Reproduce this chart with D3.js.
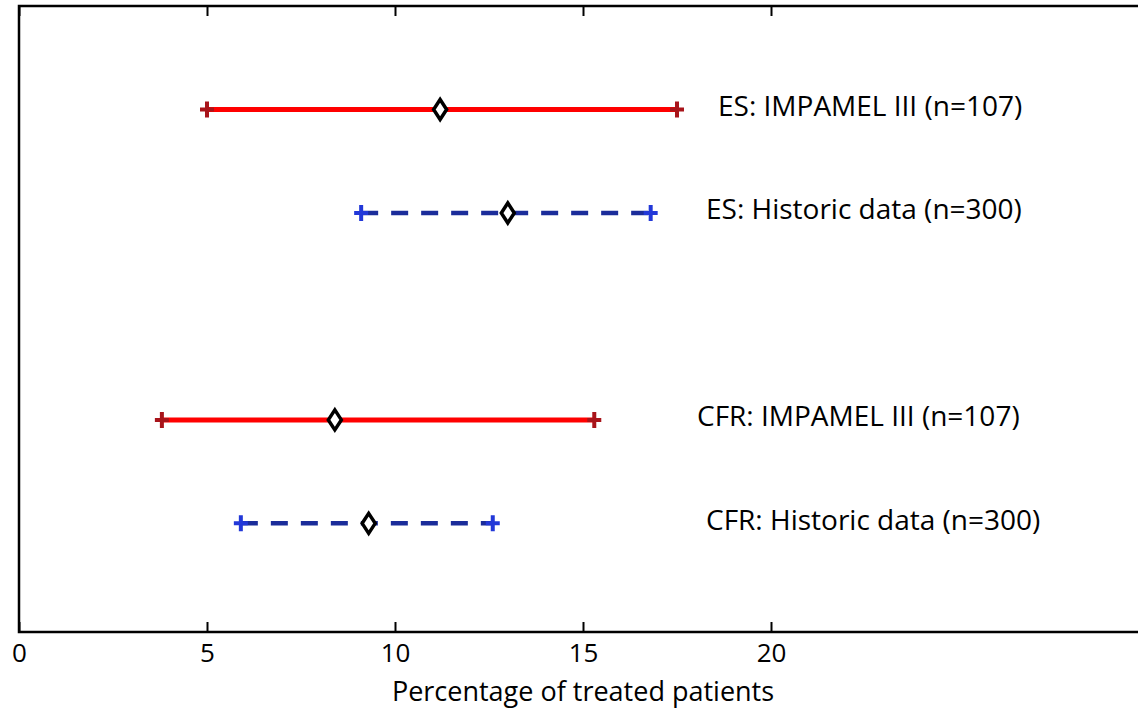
<!DOCTYPE html>
<html>
<head>
<meta charset="utf-8">
<script src="https://cdn.jsdelivr.net/npm/d3@7"></script>
<style>
  body { margin: 0; background: #fff; }
  svg { display: block; font-family: "Open Sans", "DejaVu Sans", sans-serif; }
</style>
</head>
<body>
<div id="chart"></div>
<script>
// one row per interval, top to bottom
const labels = ["ES: IMPAMEL III (n=107)", "ES: Historic data (n=300)", "CFR: IMPAMEL III (n=107)", "CFR: Historic data (n=300)"]
const lower  = [5.0, 9.1, 3.8, 5.9]
const mean   = [11.2, 13.0, 8.4, 9.3]
const upper  = [17.5, 16.8, 15.3, 12.6]
const kind   = ["impamel", "historic", "impamel", "historic"]
// y slots: gap between ES and CFR groups
const slot   = [1, 2, 4, 5]
const xTicks = [0, 5, 10, 15, 20]

const width = 1138, height = 709
const margin = {top: 6, right: -9, bottom: 77, left: 19}

const rows = labels.map((l, i) => ({label: l, lo: lower[i], m: mean[i], hi: upper[i], kind: kind[i], slot: slot[i]}))

const svg = d3.select("#chart").append("svg")
    .attr("width", width)
    .attr("height", height)

const x = d3.scaleLinear()
    .domain([0, 30])
    .range([margin.left, width - margin.right])

const y = d3.scaleLinear()
    .domain([0, 6.05])
    .range([margin.top, height - margin.bottom])

const style = {
  impamel:  {line: "#ff0000", plus: "#a8141a", dash: null,    w: 5},
  historic: {line: "#1b2c9a", plus: "#2238d8", dash: "17,13", w: 4.5}
}

// frame
const plotBottom = height - margin.bottom
svg.append("path")
    .attr("fill", "none")
    .attr("stroke", "#000")
    .attr("stroke-width", 2.5)
    .attr("d", `M${width + 20},${margin.top}H${margin.left}V${plotBottom}H${width + 20}`)

// bottom axis, ticks point inward
const xAxis = svg.append("g")
    .attr("transform", `translate(0,${plotBottom})`)
    .call(d3.axisBottom(x).tickValues(xTicks).tickSizeInner(-10).tickSizeOuter(0).tickPadding(12))
xAxis.select(".domain").remove()
xAxis.selectAll(".tick line").attr("stroke-width", 2)
xAxis.selectAll(".tick text")
    .attr("font-size", 26)
    .attr("font-family", "Open Sans, sans-serif")
    .attr("fill", "#000")

// top ticks
const topAxis = svg.append("g")
    .attr("transform", `translate(0,${margin.top})`)
    .call(d3.axisTop(x).tickValues(xTicks).tickSizeInner(-10).tickSizeOuter(0).tickFormat(""))
topAxis.select(".domain").remove()
topAxis.selectAll(".tick line").attr("stroke-width", 2)

svg.append("text")
    .attr("x", x(15))
    .attr("y", 701)
    .attr("text-anchor", "middle")
    .attr("font-size", 27)
    .attr("fill", "#000")
    .text("Percentage of treated patients")

const row = svg.append("g").selectAll("g")
  .data(rows)
  .join("g")
    .attr("transform", d => `translate(0,${y(d.slot)})`)

row.append("line")
    .attr("x1", d => x(d.lo))
    .attr("x2", d => x(d.hi))
    .attr("stroke", d => style[d.kind].line)
    .attr("stroke-width", d => style[d.kind].w)
    .attr("stroke-dasharray", d => style[d.kind].dash)

// "+" markers at the interval ends
row.selectAll("path.plus")
  .data(d => [d.lo, d.hi].map(v => ({v, kind: d.kind})))
  .join("path")
    .attr("class", "plus")
    .attr("fill", "none")
    .attr("stroke", d => style[d.kind].plus)
    .attr("stroke-width", 4)
    .attr("d", d => `M${x(d.v) - 7},0H${x(d.v) + 7}M${x(d.v)},-8V8`)

// diamond at the mean
row.append("path")
    .attr("fill", "#fff")
    .attr("stroke", "#000")
    .attr("stroke-width", 3.5)
    .attr("d", d => `M${x(d.m)},-10L${x(d.m) + 6.5},0L${x(d.m)},10L${x(d.m) - 6.5},0Z`)

row.append("text")
    .attr("x", d => d.kind === "impamel" ? (d.slot === 1 ? 718 : 697) : 706)
    .attr("dy", "0.33em")
    .attr("y", -3)
    .attr("font-size", 28)
    .attr("fill", "#000")
    .text(d => d.label)
</script>
</body>
</html>
